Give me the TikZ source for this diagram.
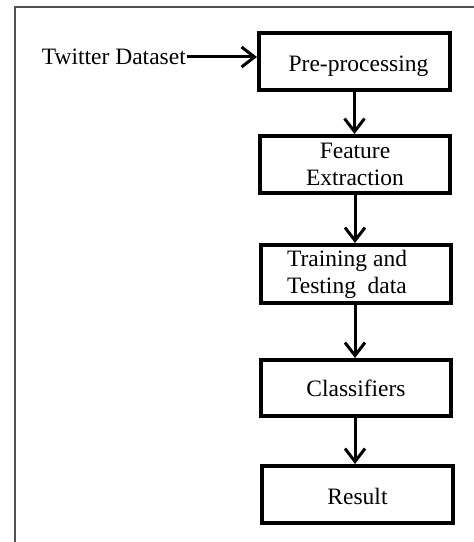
\documentclass[tikz,border=0pt]{standalone}
\usepackage{fontspec}
\setmainfont{Liberation Serif}
\usetikzlibrary{arrows.meta}
\begin{document}
\begin{tikzpicture}[x=1pt,y=1pt,
  stagebox/.style={draw=black, line width=4pt, inner sep=0pt,
    minimum width=191pt, minimum height=57pt, align=center,
    font=\fontsize{23.5}{27}\selectfont},
  flowarrow/.style={draw=black, line width=3pt,
    -{Straight Barb[length=13pt,width=20pt,line width=3pt]}},
  framestroke/.style={draw=black!68, line width=2pt}]
\useasboundingbox (0,0) rectangle (474,542);
% frame: top and left strokes only
\draw[framestroke] (15,0) -- (15,535) -- (474,535);
% processing stages
\node[stagebox] (pre) at (354.5,480.5) {\hspace*{8pt}\raisebox{-10.5pt}[0pt][0pt]{Pre-processing}};
\node[stagebox, minimum width=190pt] (feat) at (355,377.5) {Feature\\Extraction};
\node[stagebox, minimum width=190pt, minimum height=58pt, align=left] (train) at (356,268) {Training and\\Testing\ \ data\hspace*{18pt}};
\node[stagebox, minimum width=190pt, minimum height=56pt] (clf) at (356,154) {Classifiers};
\node[stagebox] (res) at (357.5,47.5) {\raisebox{-9.5pt}[0pt][0pt]{Result}};
% input label
\node[font=\fontsize{23.5}{27}\selectfont, inner sep=0pt, anchor=east] (data) at (186,485) {Twitter Dataset};
% connectors
\draw[flowarrow] ([xshift=1pt]data.east) -- (pre.west |- 0,485);
\draw[flowarrow] (pre.south) -- (pre.south |- feat.north);
\draw[flowarrow] (feat.south) -- (feat.south |- train.north);
\draw[flowarrow] ([xshift=-1pt]train.south) -- ([xshift=-1pt]train.south |- clf.north);
\draw[flowarrow] ([xshift=-1pt]clf.south) -- ([xshift=-1pt]clf.south |- res.north);
\end{tikzpicture}
\end{document}
